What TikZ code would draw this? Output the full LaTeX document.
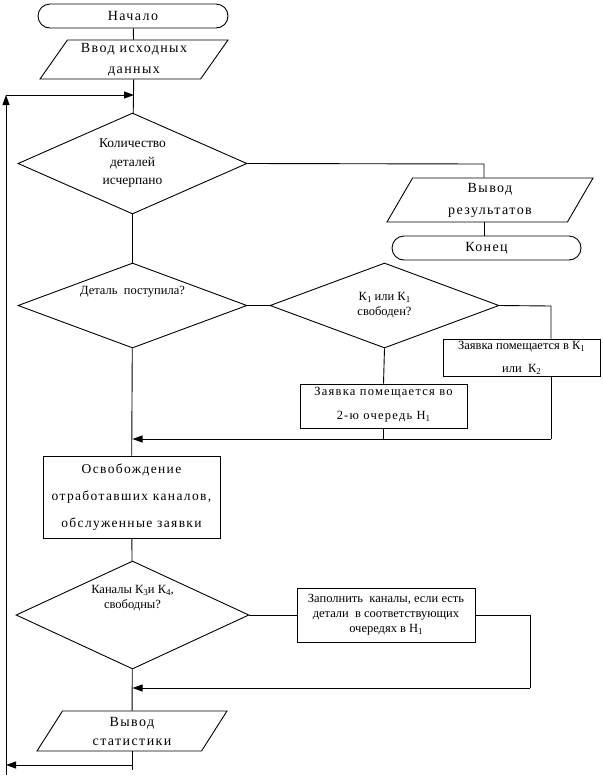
\documentclass[tikz,border=0pt]{standalone}
\usepackage{fontspec}
\setmainfont{Liberation Serif}
\newfontfamily\widefont[LetterSpace=10]{Liberation Serif}
\newcommand\idx[1]{\raisebox{-0.35ex}{\fontsize{9}{9}\selectfont #1}}
\usetikzlibrary{shapes.geometric,arrows.meta}

\begin{document}
\begin{tikzpicture}[x=1pt,y=-1pt,line width=0.9pt,
  term/.style={draw, rounded corners=12pt, minimum width=190pt, minimum height=24pt,
            font=\widefont\fontsize{14}{16}\selectfont},
  iobox/.style={draw, trapezium, trapezium left angle=51, trapezium right angle=129,
            trapezium stretches body, align=center, inner sep=0.5pt},
  cond/.style={draw, diamond, aspect=2.5, minimum width=229pt, align=center,
            inner sep=0pt, font=\fontsize{12.5}{15}\selectfont},
  proc/.style={draw, rectangle, align=center, inner sep=1pt},
  arr/.style={-{Triangle[length=10pt,width=7pt]}}]
\useasboundingbox (0,0) rectangle (603,780);

\node[term] (start) at (133,16) {Начало};
\node[iobox, minimum width=188pt, minimum height=39pt,
      font=\widefont\fontsize{14}{21}\selectfont] (input) at (134,59.5) {Ввод исходных\\данных};
\node[cond, minimum height=101pt, font=\fontsize{13.5}{18.5}\selectfont] (q1) at (132.5,163.5)
      {Количество\\деталей\\исчерпано};
\node[iobox, trapezium left angle=54, trapezium right angle=126, minimum width=206pt,
      minimum height=44pt, font=\widefont\fontsize{14}{22}\selectfont] (results) at (490,200)
      {Вывод\\результатов};
\node[term, minimum width=189pt] (stop) at (486.5,248) {Конец};
\node[cond, minimum height=85pt, text depth=30pt] (q2) at (132.5,305.5) {Деталь\ \ поступила?};
\node[cond, minimum height=85pt] (q3) at (384.5,305.5)
      {К\idx{1} или К\idx{1}\\свободен?};
\node[proc, minimum width=157pt, minimum height=37pt, font=\fontsize{12.5}{23}\selectfont]
      (place) at (521.5,357.5) {Заявка помещается в К\idx{1}\\или\ \ К\idx{2}};
\node[proc, minimum width=167pt, minimum height=44pt, text depth=6pt,
      font=\widefont\fontsize{12.5}{24}\selectfont]
      (queue) at (383.5,406) {Заявка помещается во\\2-ю очередь Н\idx{1}};
\node[proc, minimum width=177pt, minimum height=82pt, font=\widefont\fontsize{13.5}{27}\selectfont]
      (free) at (131.5,497) {Освобождение\\отработавших каналов,\\обслуженные заявки};
\node[cond, minimum height=108pt, text depth=37pt] (q4) at (132.5,615)
      {Каналы К\idx{3}и К\idx{4},\\свободны?};
\node[proc, minimum width=178pt, minimum height=54pt, font=\fontsize{12.5}{15}\selectfont]
      (fill) at (386,615) {Заполнить\ \ каналы, если есть\\детали\ \ в соответствующих\\очередях в Н\idx{1}};
\node[iobox, trapezium left angle=49, trapezium right angle=131, minimum width=190pt,
      minimum height=40pt, font=\widefont\fontsize{14}{19}\selectfont] (stats) at (132,731)
      {Вывод\\статистики};

% turning points
\coordinate (railtop) at (6,95);
\coordinate (railbot) at (6,775);
\coordinate (railin) at (6,765);
\coordinate (sx) at (132,770);
\coordinate (rk) at (484,164);
\coordinate (pk) at (551,306);
\coordinate (pj) at (551,439);
\coordinate (fr) at (530,688);

% main line
\draw (start) -- (input);
\draw (input) -- (q1);
\draw (q1) -- (q2);
\draw (q2) -- (free);
\draw (free) -- (q4);
\draw (q4) -- (stats);
\draw (stats) -- (sx);
% exit branch
\draw (q1.east) -- (rk) -- (rk |- results.north);
\draw (results.south -| rk) -- (rk |- stop.north);
% part arrived
\draw (q2.east) -- (q3.west);
\draw (q3.east) -- (pk) -- (pk |- place.north);
\draw (pk |- place.south) -- (pj);
\draw (q3.south) -- (queue.north);
\draw (queue.south) -- (queue.south |- pj);
\draw[arr] (pj) -- (q2.south |- pj);
% channels
\draw (q4.east) -- (fill.west);
\draw (fill.east) -| (fr);
\draw[arr] (fr) -- (q4.south |- fr);
% loop back
\draw[arr] (sx |- railin) -- (railin);
\draw[arr] (railbot) -- (railtop);
\draw[arr] (railtop) -- (input.south |- railtop);
\end{tikzpicture}
\end{document}
